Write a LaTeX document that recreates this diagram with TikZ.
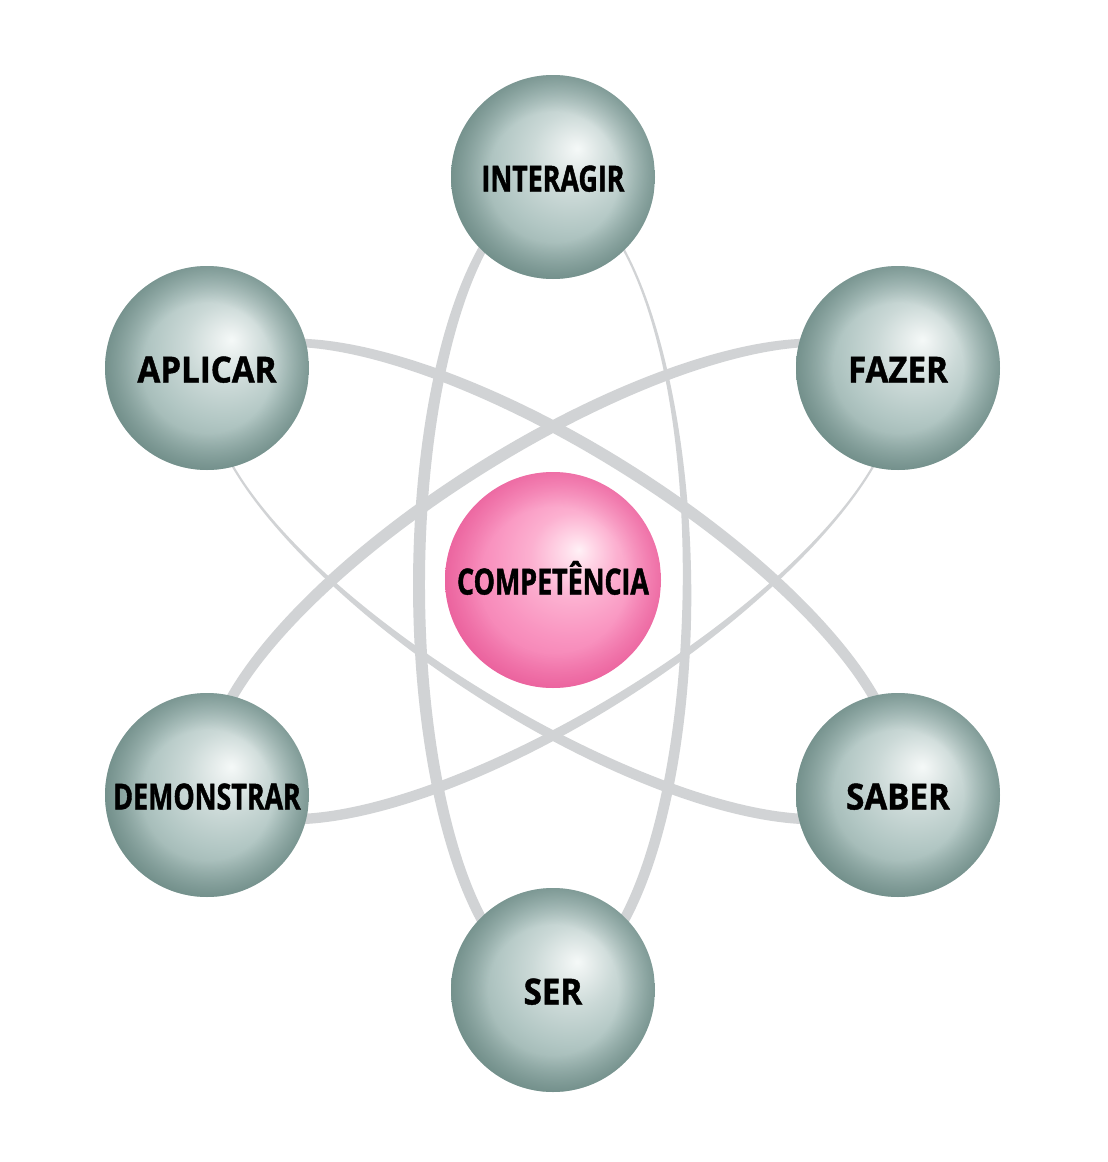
\documentclass[tikz,border=0pt]{standalone}
\usepackage{fontspec}
\newfontfamily\labfont{Open Sans}[FakeStretch=0.745, FakeBold=1.2]
\newfontfamily\labwide{Open Sans}[FakeStretch=0.92, FakeBold=1.2]
\usetikzlibrary{fadings}
\definecolor{bandgrey}{HTML}{D1D3D5}
\definecolor{greyrim}{HTML}{5E7D78}
\definecolor{pinkrim}{HTML}{E2488A}
\definecolor{g0}{HTML}{F5F9F8}
\definecolor{g1}{HTML}{E9EFEE}
\definecolor{g2}{HTML}{CBD9D7}
\definecolor{g3}{HTML}{B1C6C3}
\definecolor{g4}{HTML}{96AFAB}
\definecolor{g5}{HTML}{7B9893}
\definecolor{p0}{HTML}{FFF1F6}
\definecolor{p1}{HTML}{FFDCEA}
\definecolor{p2}{HTML}{FCB0D0}
\definecolor{p3}{HTML}{F994C0}
\definecolor{p4}{HTML}{F47DB1}
\definecolor{p5}{HTML}{EC66A2}
\pgfdeclareradialshading{greyball}{\pgfpoint{6bp}{7bp}}{%
  color(0bp)=(g0); color(3bp)=(g1); color(10bp)=(g2);
  color(18bp)=(g3); color(26bp)=(g4); color(34bp)=(g5); color(50bp)=(g5)}
\pgfdeclareradialshading{pinkball}{\pgfpoint{6bp}{7bp}}{%
  color(0bp)=(p0); color(3bp)=(p1); color(10bp)=(p2);
  color(18bp)=(p3); color(26bp)=(p4); color(34bp)=(p5); color(50bp)=(p5)}
\pgfdeclareradialshading{rimsh}{\pgfpointorigin}{%
  color(0bp)=(pgftransparent!100);
  color(16bp)=(pgftransparent!100);
  color(25bp)=(pgftransparent!45);
  color(50bp)=(pgftransparent!45)}
\pgfdeclarefading{rimfade}{\pgfuseshading{rimsh}}
\pgfdeclareradialshading{pinkrimsh}{\pgfpointorigin}{%
  color(0bp)=(pgftransparent!100);
  color(17bp)=(pgftransparent!100);
  color(25bp)=(pgftransparent!60);
  color(50bp)=(pgftransparent!60)}
\pgfdeclarefading{pinkrimfade}{\pgfuseshading{pinkrimsh}}
\newcommand\orbitband[6]{%
  \fill[bandgrey, even odd rule]
    plot[domain=-180:180, samples=241, variable=\t]
      ({#1+(395+bw(\t)/2)*cos(\t)*(#3)+(134+bw(\t)/2)*sin(\t)*(#5)},
       {#2+(395+bw(\t)/2)*cos(\t)*(#4)+(134+bw(\t)/2)*sin(\t)*(#6)}) -- cycle
    plot[domain=-180:180, samples=241, variable=\t]
      ({#1+(395-bw(\t)/2)*cos(\t)*(#3)+(134-bw(\t)/2)*sin(\t)*(#5)},
       {#2+(395-bw(\t)/2)*cos(\t)*(#4)+(134-bw(\t)/2)*sin(\t)*(#6)}) -- cycle;}
\tikzset{
  declare function={bw(\t)=12-9.5*exp(0-((\t+35)/55)*((\t+35)/55));},
  labeltext/.style={font=\labfont\bfseries\fontsize{36}{40}\selectfont,
    text=black, text height=29pt, text depth=-3pt},
  widetext/.style={font=\labwide\bfseries\fontsize{36}{40}\selectfont},
  sphere/.style={circle, inner sep=0pt, minimum size=204pt, shading=greyball,
    labeltext,
    path picture={\fill[greyrim, path fading=rimfade]
      (path picture bounding box.south west) rectangle
      (path picture bounding box.north east);}},
  core/.style={circle, inner sep=0pt, minimum size=216pt, shading=pinkball,
    labeltext,
    path picture={\fill[pinkrim, path fading=pinkrimfade]
      (path picture bounding box.south west) rectangle
      (path picture bounding box.north east);}}
}
\begin{document}
\begin{tikzpicture}[x=1pt, y=-1pt]
\useasboundingbox (0,0) rectangle (1108,1162);
\fill[white] (0,0) rectangle (1108,1162);
% orbits
\orbitband{553}{585}{0}{-1}{-1}{0}
\orbitband{553}{581}{0.848}{-0.530}{-0.530}{-0.848}
\orbitband{553}{581}{-0.848}{-0.530}{0.530}{-0.848}
% spheres
\node[sphere] (interagir) at (553,177) {INTERAGIR};
\node[sphere, widetext] (aplicar) at (207,368) {APLICAR};
\node[sphere, widetext] (fazer) at (898,368) {FAZER};
\node[sphere] (demonstrar) at (207,795) {DEMONSTRAR};
\node[sphere, widetext] (saber) at (898,795) {SABER};
\node[sphere, widetext] (ser) at (553,990) {SER};
\node[core] (competencia) at (553,580) {COMPETÊNCIA};
\end{tikzpicture}
\end{document}
